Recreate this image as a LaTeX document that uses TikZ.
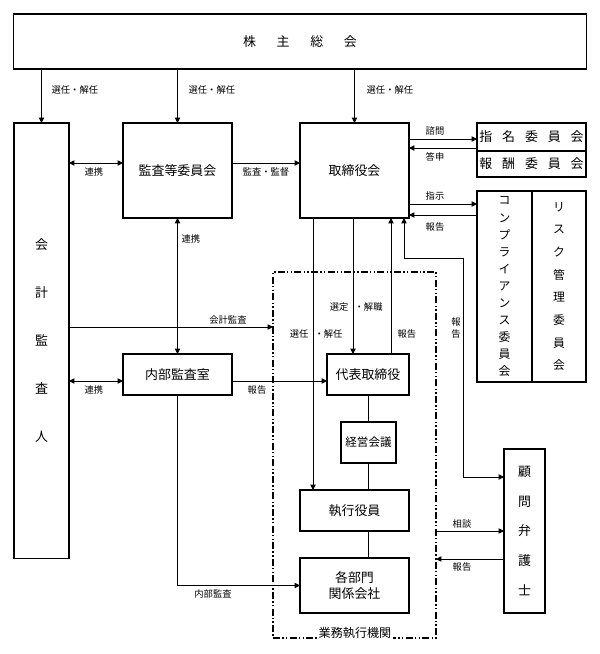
\documentclass[tikz,border=0pt]{standalone}
\usepackage{fontspec}
\setmainfont{Noto Sans CJK JP}
\usetikzlibrary{arrows.meta, positioning, calc}

\begin{document}
\begin{tikzpicture}[
  x=0.025cm, y=-0.025cm,
  box/.style={draw, line width=0.8pt, inner sep=0pt, outer sep=0pt, align=center,
    font=\fontsize{9.2}{11}\selectfont},
  lbl/.style={inner sep=1pt, font=\fontsize{6.6}{8}\selectfont},
  arr/.style={-{Triangle[length=3.8pt, width=3.8pt]}, line width=0.6pt},
  arrtwo/.style={{Triangle[length=3.8pt, width=3.8pt]}-{Triangle[length=3.8pt, width=3.8pt]}, line width=0.6pt},
  conn/.style={line width=0.6pt},
  groupbox/.style={draw, line width=1pt, inner sep=0pt, outer sep=0pt,
    dash pattern=on 5pt off 1.6pt on 1pt off 1.6pt on 1pt off 1.6pt}
]
\useasboundingbox (0,0) rectangle (600,654);

% boxes
\node (soukai) [box, minimum width=14.3cm, minimum height=1.375cm] at (300,41.5)
  {株\hspace{1.6em}主\hspace{1.6em}総\hspace{1.6em}会};
\node (kaikei) [box, minimum width=1.375cm, minimum height=10.875cm,
  font=\fontsize{9.2}{34}\selectfont] at (41.5,340.5) {会\\計\\監\\査\\人};
\node (kansa) [box, minimum width=2.725cm, minimum height=2.375cm] at (177.5,170.5) {監査等委員会};
\node (torishimari) [box, minimum width=2.725cm, minimum height=2.375cm] at (354.5,170.5) {取締役会};
\node (shimei) [box, minimum width=2.725cm, minimum height=0.7cm] at (531.5,137)
  {指\hspace{7pt}名\hspace{7pt}委\hspace{7pt}員\hspace{7pt}会};
\node (houshu) [box, minimum width=2.725cm, minimum height=0.65cm] at (531.5,164)
  {報\hspace{7pt}酬\hspace{7pt}委\hspace{7pt}員\hspace{7pt}会};
\node (comp) [box, minimum width=1.375cm, minimum height=4.775cm,
  font=\fontsize{8.4}{12.1}\selectfont] at (504.5,286.5)
  {コ\\ン\\プ\\ラ\\イ\\ア\\ン\\ス\\委\\員\\会};
\node (risk) [box, minimum width=1.35cm, minimum height=4.775cm,
  font=\fontsize{8.4}{16.1}\selectfont] at (559,286.5)
  {リ\\ス\\ク\\管\\理\\委\\員\\会};
\node (gyomu) [groupbox, minimum width=4.075cm, minimum height=9.15cm] at (354.5,455) {};
\node (gyomuLbl) [lbl, fill=white, font=\fontsize{8.6}{10}\selectfont] at (355,633) {業務執行機関};
\node (naibu) [box, minimum width=2.725cm, minimum height=1.025cm] at (177.5,374.5) {内部監査室};
\node (daihyo) [box, minimum width=2.05cm, minimum height=1.025cm] at (368,374.5) {代表取締役};
\node (keiei) [box, minimum width=1.375cm, minimum height=1.025cm,
  font=\fontsize{8.2}{10}\selectfont] at (368.5,442.5) {経営会議};
\node (shikko) [box, minimum width=2.725cm, minimum height=1.025cm] at (354.5,510.5) {執行役員};
\node (kakubu) [box, minimum width=2.725cm, minimum height=1.375cm,
  font=\fontsize{9.2}{12}\selectfont] at (354.5,585.5) {各部門\\関係会社};
\node (komon) [box, minimum width=1.025cm, minimum height=4.1cm,
  font=\fontsize{9.2}{21}\selectfont] at (524.5,531) {顧\\問\\弁\\護\\士};

% shareholders
\draw[arr] (soukai.south -| kaikei) -- (kaikei.north);
\draw[arr] (soukai.south -| kansa) -- (kansa.north);
\draw[arr] (soukai.south -| torishimari) -- (torishimari.north);
\node (lbSennin1) [lbl, anchor=west] at (50,90) {選任・解任};
\node (lbSennin2) [lbl, anchor=west] at (187,90) {選任・解任};
\node (lbSennin3) [lbl, anchor=west] at (365,90) {選任・解任};

% audit side
\draw[arrtwo] (kaikei.east |- 0,163) -- (kansa.west |- 0,163);
\node (lbRenkei1) [lbl] at (94,172) {連携};
\draw[arr] (kansa.east |- 0,163) -- (torishimari.west |- 0,163);
\node (lbKansa) [lbl] at (266,172) {監査・監督};
\draw[arrtwo] (kansa.south) -- (naibu.north);
\node (lbRenkei2) [lbl, anchor=west] at (180,239) {連携};
\draw[arr] (kaikei.east |- 0,327) -- (gyomu.west |- 0,327);
\node (lbKaikei) [lbl] at (228,320) {会計監査};
\draw[arrtwo] (kaikei.east |- 0,381) -- (naibu.west |- 0,381);
\node (lbRenkei3) [lbl] at (94,390) {連携};
\draw[arr] (naibu.east |- 0,381) -- (daihyo.west |- 0,381);
\node (lbHoukoku1) [lbl] at (257,390) {報告};
\draw[arr] (naibu.south) |- (kakubu.west);
\node (lbNaibu) [lbl] at (213,594) {内部監査};

% board and committees
\draw[arr] (torishimari.east |- 0,139) -- (shimei.west |- 0,139);
\node (lbShimon) [lbl] at (435,131) {諮問};
\draw[arr] (shimei.west |- 0,148) -- (torishimari.east |- 0,148);
\node (lbToushin) [lbl] at (435,157) {答申};
\draw[arr] (torishimari.east |- 0,204) -- (comp.west |- 0,204);
\node (lbShiji) [lbl] at (435,196) {指示};
\draw[arr] (comp.west |- 0,215) -- (torishimari.east |- 0,215);
\node (lbHoukoku2) [lbl] at (435,227) {報告};

% board and execution
\draw[arr] (torishimari.south -| 313,0) -- (shikko.north -| 313,0);
\node (lbSennin4) [lbl, anchor=east] at (310,334) {選任};
\node (lbKainin) [lbl, anchor=west] at (313,334) {・解任};
\draw[arr] (torishimari.south -| 353,0) -- (daihyo.north -| 353,0);
\node (lbSentei) [lbl, anchor=east] at (350,307) {選定};
\node (lbKaishoku) [lbl, anchor=west] at (353,307) {・解職};
\draw[arr] (daihyo.north -| 391,0) -- (torishimari.south -| 391,0);
\node (lbHoukoku3) [lbl, anchor=west] at (396,334) {報告};
\draw[arrtwo] (torishimari.south -| 404,0) |- (463,258) |- (komon.west |- 0,477);
\node (lbHoukoku4) [lbl, align=center, font=\fontsize{6.6}{9}\selectfont] at (456,328) {報\\告};

\draw[conn] (daihyo.south) -- (daihyo.south |- keiei.north);
\draw[conn] (keiei.south) -- (keiei.south |- shikko.north);
\draw[conn] (shikko.south -| keiei) -- (kakubu.north -| keiei);

% lawyer
\draw[arr] (gyomu.east |- 0,531) -- (komon.west |- 0,531);
\node (lbSoudan) [lbl] at (462,524) {相談};
\draw[arr] (komon.west |- 0,559) -- (gyomu.east |- 0,559);
\node (lbHoukoku5) [lbl] at (462,567) {報告};
\end{tikzpicture}
\end{document}
